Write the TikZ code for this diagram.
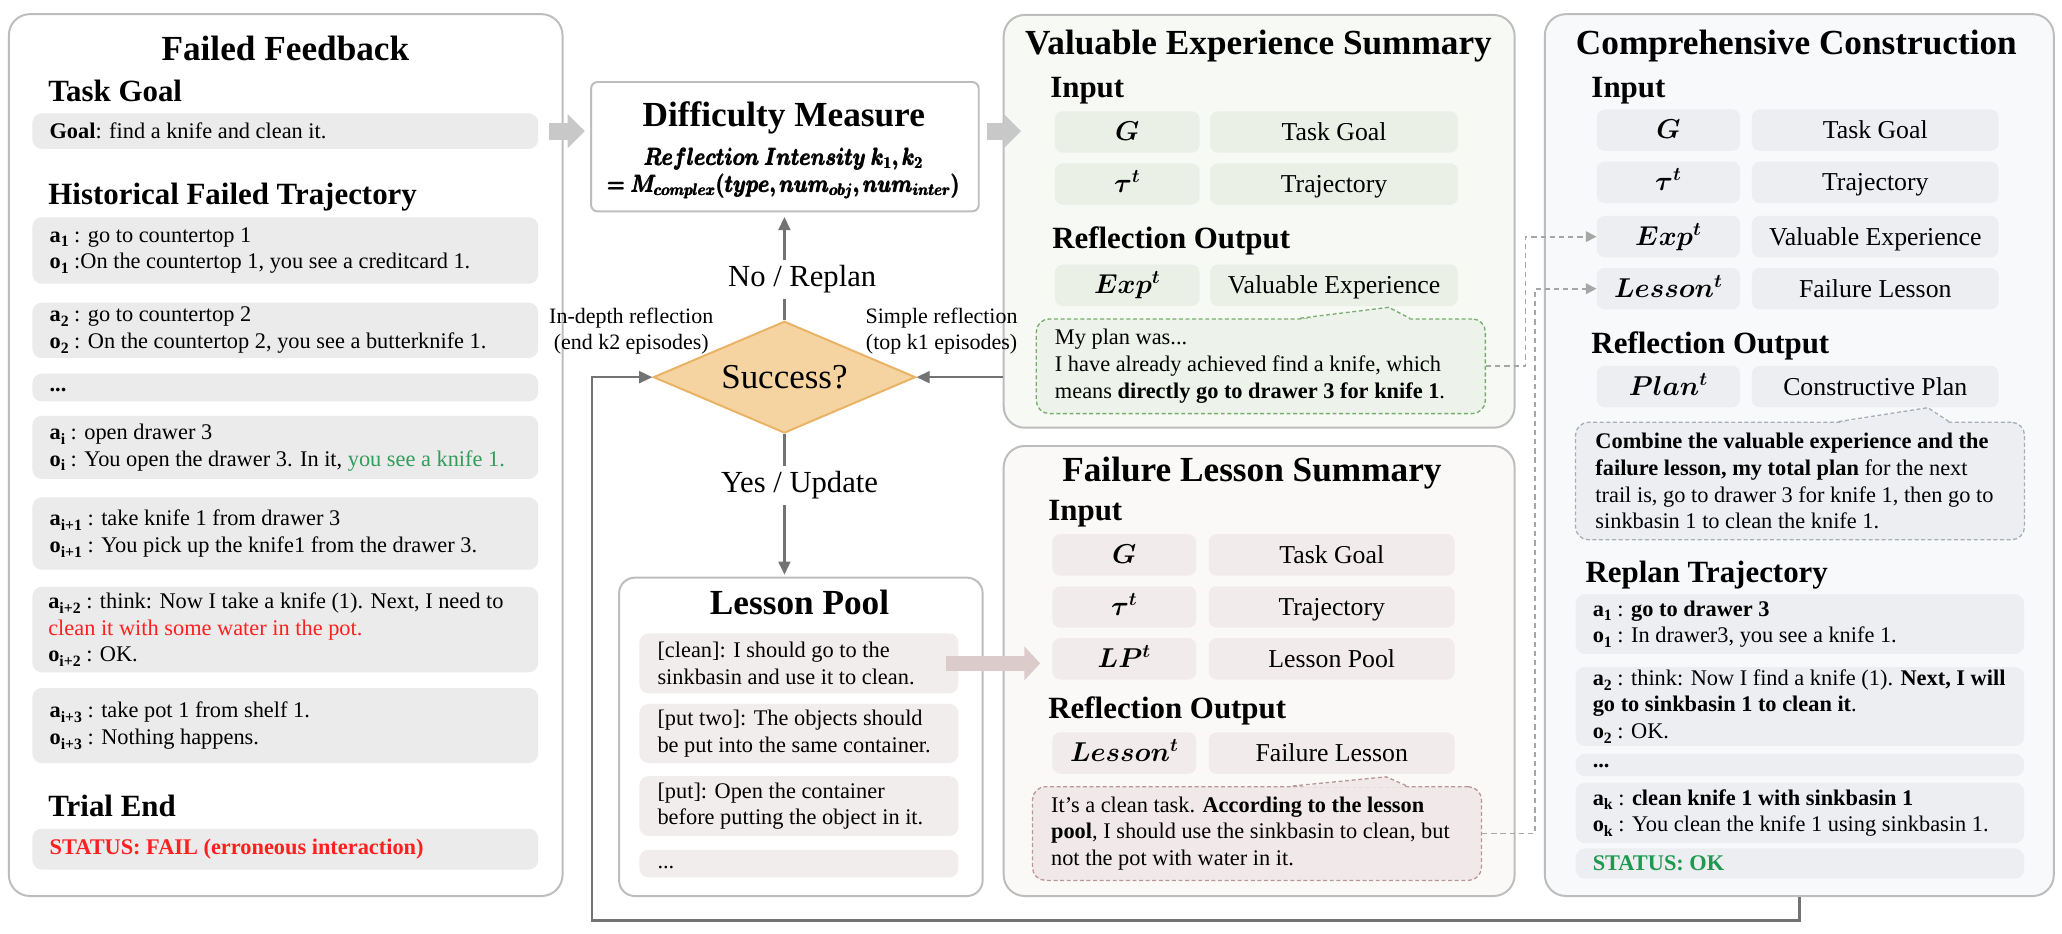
\documentclass[tikz,border=0pt]{standalone}
\usepackage{graphicx}
\usepackage{amsmath}
\usepackage{bm}
\usepackage{fontspec}
\setmainfont{Liberation Serif}
\usetikzlibrary{arrows.meta,shapes.geometric}
\definecolor{bordergray}{HTML}{BDBDBD}
\definecolor{boxgray}{HTML}{EBEBEB}
\definecolor{flowgray}{HTML}{737373}
\definecolor{dashgray}{HTML}{A6A6A6}
\definecolor{bigarrowgray}{HTML}{C8C8C8}
\definecolor{pinkarrowc}{HTML}{DCCBCB}
\definecolor{diafill}{HTML}{F5D4A1}
\definecolor{diadraw}{HTML}{E9B264}
\definecolor{vesfill}{HTML}{F7F9F5}
\definecolor{vcellfill}{HTML}{EAF0E6}
\definecolor{vbubfill}{HTML}{EDF2EA}
\definecolor{vbubline}{HTML}{76AD6B}
\definecolor{flsfill}{HTML}{FBF9F8}
\definecolor{fcellfill}{HTML}{F2EBEB}
\definecolor{fbubfill}{HTML}{F1E9E9}
\definecolor{fbubline}{HTML}{B79797}
\definecolor{ccfill}{HTML}{F8F9FB}
\definecolor{ccellfill}{HTML}{ECEEF1}
\definecolor{cbubfill}{HTML}{ECEEF1}
\definecolor{cbubline}{HTML}{A7AEB6}
\definecolor{lpfill}{HTML}{F2EDED}
\definecolor{okgreen}{HTML}{1E9A50}
\definecolor{failred}{HTML}{FF1F1F}
\definecolor{seegreen}{HTML}{2E9E5B}
\newcommand\fbody{\fontsize{17}{20.3}\selectfont}
\newcommand\fttl{\fontsize{26.8}{30}\selectfont\bfseries}
\newcommand\fhd{\fontsize{23.5}{26}\selectfont\bfseries}
\newcommand\fcell{\fontsize{19.6}{22}\selectfont}
\newcommand\flab{\fontsize{23.3}{26}\selectfont}
\newcommand\fside{\fontsize{16.7}{20}\selectfont}
\newcommand\fform{\fontsize{17.28}{20}\selectfont}
\newcommand\ab[2]{\textbf{#1}\raisebox{-3.6pt}{\fontsize{12}{12}\selectfont\textbf{#2}}}
\begin{document}
\begin{tikzpicture}[x=1pt,y=-1pt,
  panel/.style={draw=bordergray, line width=1.5pt, rounded corners=16pt, anchor=north west, inner sep=0},
  gbox/.style={fill=boxgray, rounded corners=7pt, anchor=north west, inner sep=0},
  lpbox/.style={fill=lpfill, rounded corners=7pt, anchor=north west, inner sep=0, minimum width=242.6pt},
  cbox/.style={fill=ccellfill, rounded corners=7pt, anchor=north west, inner sep=0, minimum width=341pt},
  txt/.style={inner sep=0, anchor=west, align=left, font=\fbody},
  ttl/.style={inner sep=0, anchor=base, font=\fttl},
  hd/.style={inner sep=0, anchor=base west, font=\fhd},
  cell/.style={rounded corners=6pt, anchor=north west, inner sep=0, minimum height=31.5pt, font=\fcell, text height=15pt, text depth=2pt},
  vcell/.style={cell, fill=vcellfill},
  fcell/.style={cell, fill=fcellfill},
  ccell/.style={cell, fill=ccellfill},
  bub/.style={anchor=north west, inner sep=0, rounded corners=10pt, line width=1pt, dash pattern=on 3pt off 2pt},
  flow/.style={draw=flowgray, line width=1.8pt, -{Triangle[length=10pt,width=9pt]}},
  dflow/.style={draw=dashgray, line width=1.3pt, dash pattern=on 4pt off 3pt, -{Triangle[length=8pt,width=8pt]}},
  bigarrow/.style={draw=bigarrowgray, line width=13pt, -{Triangle[length=13pt,width=25pt]}},
  pinkarrow/.style={draw=pinkarrowc, line width=12pt, -{Triangle[length=12pt,width=25pt]}},
  lbl/.style={font=\flab, fill=white, inner sep=4pt, anchor=base},
  side/.style={inner sep=0, align=center, font=\fside},
  form/.style={inner sep=0, anchor=base, font=\fform}
]
\fill[white] (0,0) rectangle (1568,710.2);
\useasboundingbox (0,0) rectangle (1568,710.2);

% ---------------- Failed Feedback ----------------
\node[panel, fill=white, minimum width=421pt, minimum height=670.6pt] (ff) at (6,10) {};
\node[ttl] (ffT) at (217,45.8) {Failed Feedback};
\node[hd] (ffG) at (36.6,76.8) {Task Goal};
\node[gbox, minimum width=384.5pt, minimum height=27pt] (goal) at (24.5,86) {};
\node[txt] (goalT) at ([xshift=13pt]goal.west) {\textbf{Goal}: find a knife and clean it.};
\node[hd] (ffH) at (36.6,155.8) {Historical Failed Trajectory};
\node[gbox, minimum width=384.5pt, minimum height=50.5pt] (b1) at (24.5,165) {};
\node[txt] (b1t) at ([xshift=13pt]b1.west) {\ab{a}{1} : go to countertop 1\\\ab{o}{1} :On the countertop 1, you see a creditcard 1.};
\node[gbox, minimum width=384.5pt, minimum height=42pt] (b2) at (24.5,230) {};
\node[txt] (b2t) at ([xshift=13pt]b2.west) {\ab{a}{2} : go to countertop 2\\\ab{o}{2} : On the countertop 2, you see a butterknife 1.};
\node[gbox, minimum width=384.5pt, minimum height=21pt] (bd) at (24.5,284) {};
\node[txt] (bdt) at ([xshift=13pt,yshift=-2pt]bd.west) {\textbf{...}};
\node[gbox, minimum width=384.5pt, minimum height=48pt] (bi) at (24.5,316) {};
\node[txt] (bit) at ([xshift=13pt]bi.west) {\ab{a}{i} : open drawer 3\\\ab{o}{i} : You open the drawer 3. In it, \textcolor{seegreen}{you see a knife 1.}};
\node[gbox, minimum width=384.5pt, minimum height=55pt] (bi1) at (24.5,378) {};
\node[txt] (bi1t) at ([xshift=13pt]bi1.west) {\ab{a}{i+1} : take knife 1 from drawer 3\\\ab{o}{i+1} : You pick up the knife1 from the drawer 3.};
\node[gbox, minimum width=384.5pt, minimum height=65pt] (bi2) at (24.5,446) {};
\node[txt] (bi2t) at ([xshift=12pt]bi2.west) {\ab{a}{i+2} : think: Now I take a knife (1). Next, I need to\\\textcolor{failred}{clean it with some water in the pot.}\\\ab{o}{i+2} : OK.};
\node[gbox, minimum width=384.5pt, minimum height=57pt] (bi3) at (24.5,523) {};
\node[txt] (bi3t) at ([xshift=13pt]bi3.west) {\ab{a}{i+3} : take pot 1 from shelf 1.\\\ab{o}{i+3} : Nothing happens.};
\node[hd] (ffE) at (36.6,620.8) {Trial End};
\node[gbox, minimum width=384.5pt, minimum height=31pt] (st) at (24.5,630) {};
\node[txt] (stt) at ([xshift=13pt]st.west) {\textcolor{failred}{\textbf{STATUS: FAIL (erroneous interaction)}}};

% ---------------- Difficulty Measure ----------------
\node[draw=bordergray, line width=1.5pt, rounded corners=5pt, fill=white, anchor=north west, inner sep=0, minimum width=294.8pt, minimum height=98.4pt] (dm) at (448.7,61.6) {};
\node[ttl] (dmT) at (596,96.3) {Difficulty Measure};
\node[form] (dmF1) at (596,125.6) {\scalebox{0.9}[1.05]{$\pmb{\bm{Reflection\ Intensity\ k_1, k_2}}$}};
\node[form] (dmF2) at (596,146.3) {\scalebox{0.9}[1.05]{$\pmb{\bm{= M_{complex}(type, num_{obj}, num_{inter})}}$}};

% ---------------- Decision ----------------
\node[diamond, aspect=2.35, minimum width=199.4pt, minimum height=85pt, inner sep=0, fill=diafill, draw=diadraw, line width=1.5pt, font=\fontsize{26.6}{30}\selectfont] (succ) at (596.5,286.8) {Success?};

% ---------------- Lesson Pool ----------------
\node[panel, fill=white, rounded corners=12pt, minimum width=276.5pt, minimum height=242.1pt] (lp) at (470,438.5) {};
\node[ttl] (lpT) at (608,467.4) {Lesson Pool};
\node[lpbox, minimum height=45.5pt] (lp1) at (486,481.5) {};
\node[txt] (lp1t) at ([xshift=13.8pt]lp1.west) {[clean]: I should go to the\\sinkbasin and use it to clean.};
\node[lpbox, minimum height=45pt] (lp2) at (486,535) {};
\node[txt] (lp2t) at ([xshift=13.8pt]lp2.west) {[put two]: The objects should\\be put into the same container.};
\node[lpbox, minimum height=45.5pt] (lp3) at (486,590) {};
\node[txt] (lp3t) at ([xshift=13.8pt]lp3.west) {[put]: Open the container\\before putting the object in it.};
\node[lpbox, minimum height=21pt] (lp4) at (486,646) {};
\node[txt] (lp4t) at ([xshift=13.8pt,yshift=-3pt]lp4.west) {...};

% ---------------- Valuable Experience Summary ----------------
\node[panel, fill=vesfill, minimum width=388.5pt, minimum height=313.9pt] (ves) at (762.5,10.6) {};
\node[ttl] (vesT) at (957,41.8) {Valuable Experience Summary};
\node[hd] (vesI) at (798.5,74.2) {Input};
\node[vcell, minimum width=110pt] (vG) at (802,84.4) {$\bm{G}$};
\node[vcell, minimum width=188.5pt] (vGt) at (920,84.4) {Task Goal};
\node[vcell, minimum width=110pt] (vTau) at (802,124) {$\bm{\tau^t}$};
\node[vcell, minimum width=188.5pt] (vTr) at (920,124) {Trajectory};
\node[hd] (vesO) at (800,188.8) {Reflection Output};
\node[vcell, minimum width=110pt] (vExp) at (802,201) {$\bm{Exp^t}$};
\node[vcell, minimum width=188.5pt] (vVE) at (920,201) {Valuable Experience};
\node[bub, fill=vbubfill, draw=vbubline, minimum width=341.5pt, minimum height=72pt] (vbub) at (787.5,242) {};
\fill[vbubfill] (988.6,243.2) -- (1056,233.7) -- (1072,243.2) -- cycle;
\draw[vbubline, line width=1pt, dash pattern=on 3pt off 2pt] (988.6,242) -- (1056,233.7) -- (1072,242);
\node[txt] (vbubt) at ([xshift=14.5pt]vbub.west) {My plan was...\\I have already achieved find a knife, which\\means \textbf{directly go to drawer 3 for knife 1}.};

% ---------------- Failure Lesson Summary ----------------
\node[panel, fill=flsfill, minimum width=388.5pt, minimum height=342.2pt] (fls) at (762.5,338.4) {};
\node[ttl] (flsT) at (952,366.2) {Failure Lesson Summary};
\node[hd] (flsI) at (797,395.8) {Input};
\node[fcell, minimum width=109.5pt] (fG) at (800,406) {$\bm{G}$};
\node[fcell, minimum width=187pt] (fGt) at (919,406) {Task Goal};
\node[fcell, minimum width=109.5pt] (fTau) at (800,445.6) {$\bm{\tau^t}$};
\node[fcell, minimum width=187pt] (fTr) at (919,445.6) {Trajectory};
\node[fcell, minimum width=109.5pt] (fLP) at (800,485) {$\bm{LP^t}$};
\node[fcell, minimum width=187pt] (fLPt) at (919,485) {Lesson Pool};
\node[hd] (flsO) at (797,546.3) {Reflection Output};
\node[fcell, minimum width=109.5pt] (fLes) at (800,556.7) {$\bm{Lesson^t}$};
\node[fcell, minimum width=187pt] (fFL) at (919,556.7) {Failure Lesson};
\node[bub, fill=fbubfill, draw=fbubline, minimum width=341.4pt, minimum height=71.3pt] (fbub) at (784.6,597.7) {};
\fill[fbubfill] (983,598.9) -- (1054,590.7) -- (1070,598.9) -- cycle;
\draw[fbubline, line width=1pt, dash pattern=on 3pt off 2pt] (983,597.7) -- (1054,590.7) -- (1070,597.7);
\node[txt] (fbubt) at ([xshift=14.5pt]fbub.west) {It’s a clean task. \textbf{According to the lesson}\\\textbf{pool}, I should use the sinkbasin to clean, but\\not the pot with water in it.};

% ---------------- Comprehensive Construction ----------------
\node[panel, fill=ccfill, minimum width=387pt, minimum height=670.6pt] (cc) at (1174,10) {};
\node[ttl] (ccT) at (1366,41.8) {Comprehensive Construction};
\node[hd] (ccI) at (1210,74) {Input};
\node[ccell, minimum width=109pt] (cG) at (1214,83) {$\bm{G}$};
\node[ccell, minimum width=187.6pt] (cGt) at (1332,83) {Task Goal};
\node[ccell, minimum width=109pt] (cTau) at (1214,122.7) {$\bm{\tau^t}$};
\node[ccell, minimum width=187.6pt] (cTr) at (1332,122.7) {Trajectory};
\node[ccell, minimum width=109pt] (cExp) at (1214,164) {$\bm{Exp^t}$};
\node[ccell, minimum width=187.6pt] (cVE) at (1332,164) {Valuable Experience};
\node[ccell, minimum width=109pt] (cLes) at (1214,203.6) {$\bm{Lesson^t}$};
\node[ccell, minimum width=187.6pt] (cFL) at (1332,203.6) {Failure Lesson};
\node[hd] (ccO) at (1210,268.8) {Reflection Output};
\node[ccell, minimum width=109pt] (cPlan) at (1214,278) {$\bm{Plan^t}$};
\node[ccell, minimum width=187.6pt] (cCP) at (1332,278) {Constructive Plan};
\node[bub, fill=cbubfill, draw=cbubline, minimum width=341.5pt, minimum height=89.4pt] (cbub) at (1197.5,320.6) {};
\fill[cbubfill] (1398,321.8) -- (1466,310) -- (1482,321.8) -- cycle;
\draw[cbubline, line width=1pt, dash pattern=on 3pt off 2pt] (1398,320.6) -- (1466,310) -- (1482,320.6);
\node[txt] (cbubt) at ([xshift=15.5pt]cbub.west) {\textbf{Combine the valuable experience and the}\\\textbf{failure lesson, my total plan} for the next\\trail is, go to drawer 3 for knife 1, then go to\\sinkbasin 1 to clean the knife 1.};
\node[hd] (ccR) at (1205.5,442.8) {Replan Trajectory};
\node[cbox, minimum height=45.3pt] (r1) at (1198,451.7) {};
\node[txt] (r1t) at ([xshift=13pt]r1.west) {\ab{a}{1} : \textbf{go to drawer 3}\\\ab{o}{1} : In drawer3, you see a knife 1.};
\node[cbox, minimum height=60pt] (r2) at (1198,507) {};
\node[txt] (r2t) at ([xshift=13pt]r2.west) {\ab{a}{2} : think: Now I find a knife (1). \textbf{Next, I will}\\\textbf{go to sinkbasin 1 to clean it}.\\\ab{o}{2} : OK.};
\node[cbox, minimum height=17pt] (r3) at (1198,573) {};
\node[txt] (r3t) at ([xshift=13pt,yshift=-1pt]r3.west) {\textbf{...}};
\node[cbox, minimum height=46pt] (r4) at (1198,595) {};
\node[txt] (r4t) at ([xshift=13pt]r4.west) {\ab{a}{k} : \textbf{clean knife 1 with sinkbasin 1}\\\ab{o}{k} : You clean the knife 1 using sinkbasin 1.};
\node[cbox, minimum height=23pt] (rs) at (1198,645) {};
\node[txt] (rst) at ([xshift=13pt]rs.west) {\textcolor{okgreen}{\textbf{STATUS: OK}}};

% ---------------- Connectors ----------------
\draw[bigarrow] ([xshift=8pt]goal.east) -- ([xshift=-4pt]dm.west |- goal.east);
\draw[bigarrow] ([xshift=5.5pt]dm.east |- goal.east) -- ([xshift=14pt]ves.west |- goal.east);
\draw[pinkarrow] ([xshift=-10pt]lp1.east) -- ([xshift=-9pt]fLP.west |- lp1.east);

\draw[flow, shorten >=3.5pt] (succ.north) -- (succ.north |- dm.south);
\node[lbl] (nr) at (610,218.2) {No / Replan};
\draw[flow, shorten >=1.5pt] (succ.south) -- (succ.south |- lp.north);
\node[lbl] (yu) at (608,374.7) {Yes / Update};
\draw[flow] (ves.west |- succ.east) -- (succ.east);
\coordinate (loopL) at (450,700);
\draw[flow] (cc.south) |- (loopL) |- (succ.west);

\draw[dflow] (vbub.east) -- ++(30,0) |- (cExp.west);
\draw[dflow] (fbub.east) -- ++(40,0) |- (cLes.west);

% side labels (over the panel borders)
\node[side] (indepth) at (480,251.6) {In-depth reflection\\(end k2 episodes)};
\node[side] (simple) at (716,251.6) {Simple reflection\\(top k1 episodes)};
\end{tikzpicture}
\end{document}
